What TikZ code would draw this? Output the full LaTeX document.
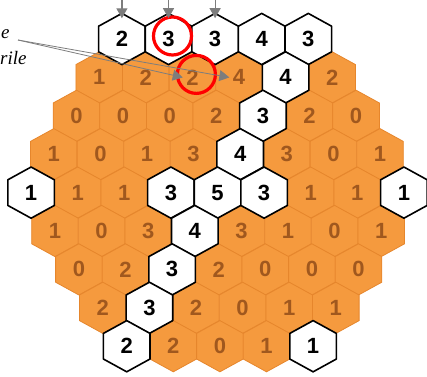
\documentclass[tikz,border=0pt]{standalone}
\usepackage{fontspec}
\setmainfont{Liberation Serif}
\newfontfamily\digitfont{Liberation Sans}
\usetikzlibrary{arrows.meta}
\definecolor{cellorange}{RGB}{245,154,62}
\definecolor{celledge}{RGB}{230,134,44}
\definecolor{digitbrown}{RGB}{160,88,30}
\definecolor{ptrgray}{RGB}{125,125,125}

\begin{document}
\begin{tikzpicture}[
  x=1pt, y=-1pt,
  >={Triangle[length=10pt,width=11pt]},
  hexo/.style={fill=cellorange,draw=celledge,line width=0.8pt},
  hexw/.style={fill=white,draw=black,line width=1.6pt,line join=round},
  digo/.style={font=\digitfont\bfseries\fontsize{22}{22}\selectfont,text=digitbrown},
  digw/.style={font=\digitfont\bfseries\fontsize{22}{22}\selectfont,text=black},
  ring/.style={draw=red,line width=3.2pt},
  ptr/.style={->,draw=ptrgray,line width=1.2pt},
  lbl/.style={font=\itshape\fontsize{19}{19}\selectfont,inner sep=0pt}
]
\useasboundingbox (0,0) rectangle (427,376);
\def\dx{46.6}
\def\dy{38.4}
\def\rx{23.3}
\def\ry{25.6}

% rows of the board: value/kind (o = orange, w = white)
\def\board{0/{2/w,3/w,3/w,4/w,3/w},%
1/{1/o,2/o,2/o,4/o,4/w,2/o},%
2/{0/o,0/o,0/o,2/o,3/w,2/o,0/o},%
3/{1/o,0/o,1/o,3/o,4/w,3/o,0/o,1/o},%
4/{1/w,1/o,1/o,3/w,5/w,3/w,1/o,1/o,1/w},%
5/{1/o,0/o,3/o,4/w,3/o,1/o,0/o,1/o},%
6/{0/o,2/o,3/w,2/o,0/o,0/o,0/o},%
7/{2/o,3/w,2/o,0/o,1/o,1/o},%
8/{2/w,2/o,0/o,1/o,1/w}}

% orange cells first
\foreach \r/\cells in \board {
  \pgfmathtruncatemacro{\n}{9-abs(\r-4)}
  \foreach \val/\kind [count=\i from 0] in \cells {
    \pgfmathsetmacro{\cx}{217.5+0.6*(\r-4)+(\i-(\n-1)/2)*\dx}
    \pgfmathsetmacro{\cy}{39+\dy*\r}
    \if\kind o
      \path[hexo] (\cx,\cy) ++(0,-\ry) -- ++(\rx,\ry/2) -- ++(0,\ry) -- ++(-\rx,\ry/2)
        -- ++(-\rx,-\ry/2) -- ++(0,-\ry) -- cycle;
      \node[digo] (c\r-\i) at (\cx,\cy) {\val};
    \fi
  }
}

% white cells on top
\foreach \r/\cells in \board {
  \pgfmathtruncatemacro{\n}{9-abs(\r-4)}
  \foreach \val/\kind [count=\i from 0] in \cells {
    \pgfmathsetmacro{\cx}{217.5+0.6*(\r-4)+(\i-(\n-1)/2)*\dx}
    \pgfmathsetmacro{\cy}{39+\dy*\r}
    \if\kind w
      \path[hexw] (\cx,\cy) ++(0,-\ry) -- ++(\rx,\ry/2) -- ++(0,\ry) -- ++(-\rx,\ry/2)
        -- ++(-\rx,-\ry/2) -- ++(0,-\ry) -- cycle;
      \node[digw] (c\r-\i) at (\cx,\cy) {\val};
    \fi
  }
}

% marked cells
\draw[ring] ([shift={(4,-3)}]c0-1.center) circle (19pt);
\draw[ring] ([shift={(4,-3)}]c1-2.center) circle (19pt);

% arrows from the top
\foreach \i in {0,1,2} {
  \coordinate (top\i) at (c0-\i |- 0,0);
  \draw[ptr,shorten >=9.5pt] (top\i) -- (c0-\i);
}

% labels
\node[lbl,anchor=base west] (lblE) at (1,38) {e};
\node[lbl,anchor=base west] (lblR) at (0,64) {rile};
\coordinate (src) at (18,40);
\draw[ptr,line width=0.8pt] (src) -- (c1-2.west);
\draw[ptr,line width=0.8pt] (src) -- (c1-3.west);

\end{tikzpicture}
\end{document}
